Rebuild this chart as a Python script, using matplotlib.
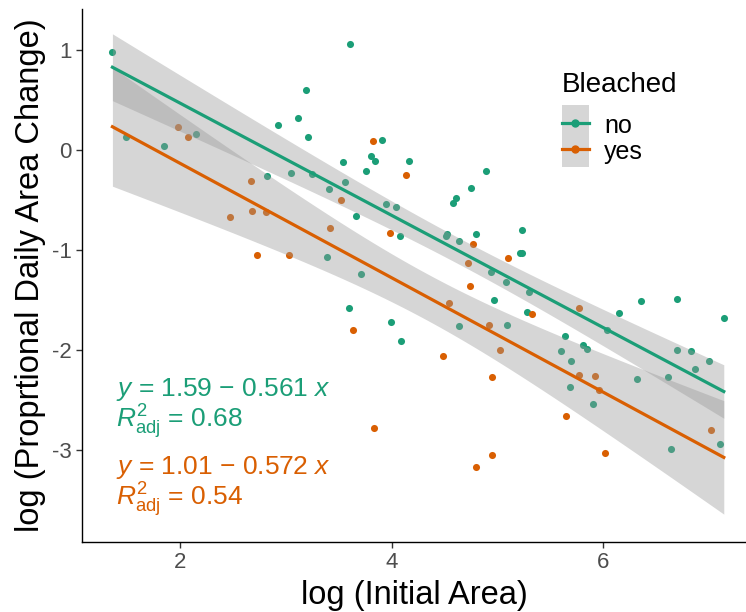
import numpy as np
import matplotlib
matplotlib.use("Agg")
import matplotlib.pyplot as plt
from matplotlib.patches import Patch, Rectangle
from matplotlib.lines import Line2D
from matplotlib.legend_handler import HandlerTuple, HandlerPatch

plt.rcParams['font.family'] = ['Liberation Sans', 'DejaVu Sans']
plt.rcParams['mathtext.fontset'] = 'custom'
plt.rcParams['mathtext.rm'] = 'Liberation Sans'
plt.rcParams['mathtext.it'] = 'Liberation Sans:italic'
plt.rcParams['axes.unicode_minus'] = False

# ---- data ----
no_x = [1.36, 1.49, 1.85, 2.15, 3.19, 2.93, 3.11, 3.21, 2.82, 3.05, 3.25, 3.61, 3.91, 3.80,
        3.84, 3.54, 4.16, 3.76, 4.89, 3.56, 3.41, 4.75, 4.61, 4.58, 3.95, 4.04, 3.66, 4.08,
        4.52, 4.51, 4.80, 4.64, 3.39, 3.71, 4.94, 5.08, 4.97, 3.60, 3.99, 4.64, 5.09, 4.09,
        5.23, 5.21, 5.23, 5.30, 5.28, 6.15, 6.36, 6.70, 7.14, 6.04, 5.64, 5.81, 5.85, 5.60,
        6.70, 6.83, 7.00, 5.70, 6.87, 6.61, 6.32, 5.69, 5.90, 7.10, 6.64]
no_y = [0.98, 0.13, 0.04, 0.16, 0.60, 0.25, 0.32, 0.13, -0.26, -0.23, -0.24, 1.06, 0.10, -0.06,
        -0.11, -0.12, -0.11, -0.21, -0.21, -0.32, -0.39, -0.38, -0.48, -0.53, -0.54, -0.57, -0.66, -0.86,
        -0.84, -0.86, -0.84, -0.91, -1.07, -1.24, -1.22, -1.32, -1.50, -1.58, -1.72, -1.76, -1.75, -1.91,
        -0.80, -1.03, -1.03, -1.42, -1.62, -1.63, -1.51, -1.49, -1.68, -1.80, -1.86, -1.95, -1.99, -2.01,
        -2.00, -2.01, -2.11, -2.11, -2.19, -2.27, -2.29, -2.37, -2.54, -2.94, -2.99]

yes_x = [1.98, 2.07, 2.67, 2.47, 2.68, 2.81, 2.73, 3.03, 3.82, 4.14, 3.52, 3.42, 3.98, 4.77,
         4.72, 5.10, 4.74, 4.54, 4.92, 3.63, 5.02, 4.49, 4.95, 5.33, 5.77, 5.77, 5.92, 5.96,
         5.65, 7.02, 6.02, 3.83, 4.95, 4.80]
yes_y = [0.23, 0.13, -0.31, -0.67, -0.61, -0.62, -1.05, -1.05, 0.09, -0.25, -0.50, -0.78, -0.83, -0.94,
         -1.13, -1.08, -1.36, -1.53, -1.75, -1.80, -2.00, -2.06, -2.27, -1.64, -1.58, -2.25, -2.26, -2.40,
         -2.66, -2.80, -3.03, -2.78, -3.05, -3.17]

groups = ["no", "yes"]
intercepts = [1.59, 1.01]
slopes = [-0.561, -0.572]
r2_adj = [0.68, 0.54]
colors = ["#1B9E77", "#D95F02"]

fig = plt.figure(figsize=(7.46, 6.12), dpi=100)
ax = fig.add_axes([0.110, 0.1144, 0.890, 0.871])

all_x = np.array(no_x + yes_x)
grid = np.linspace(all_x.min(), all_x.max(), 100)
t975 = {"no": 1.997, "yes": 2.037}

for g, xs, ys, b0, b1, col in zip(groups, [no_x, yes_x], [no_y, yes_y], intercepts, slopes, colors):
    xs = np.array(xs); ys = np.array(ys)
    ax.scatter(xs, ys, s=26, color=col, zorder=1, linewidths=0)
    n = len(xs)
    resid = ys - (b0 + b1 * xs)
    s = np.sqrt(np.sum(resid ** 2) / (n - 2))
    sxx = np.sum((xs - xs.mean()) ** 2)
    se = s * np.sqrt(1.0 / n + (grid - xs.mean()) ** 2 / sxx)
    fit = b0 + b1 * grid
    ax.fill_between(grid, fit - t975[g] * se, fit + t975[g] * se, color="#999999", alpha=0.4,
                    linewidth=0, zorder=2)
    ax.plot(grid, fit, color=col, lw=2.3, zorder=3)

ax.set_xlim(1.073, 7.35)
ax.set_ylim(-3.92, 1.41)
ax.set_xticks([2, 4, 6])
ax.set_yticks([1, 0, -1, -2, -3])
for sp in ["top", "right"]:
    ax.spines[sp].set_visible(False)
for sp in ["left", "bottom"]:
    ax.spines[sp].set_linewidth(1.0)
    ax.spines[sp].set_color("black")
ax.tick_params(axis="both", labelsize=16, labelcolor="#4D4D4D", color="#333333", length=4, width=1)
ax.set_xlabel("log (Initial Area)", fontsize=23.5, labelpad=5)
ax.set_ylabel("log (Proprtional Daily Area Change)", fontsize=23.5, labelpad=4)

# equation annotations
tx = 1.395
ax.text(tx, -2.40, r"$y$ = 1.59 $-$ 0.561 $x$", color=colors[0], fontsize=19, va="center", ha="left")
ax.text(tx, -2.72, r"$R^{2}_{\mathrm{adj}}$ = 0.68", color=colors[0], fontsize=19, va="center", ha="left")
ax.text(tx, -3.18, r"$y$ = 1.01 $-$ 0.572 $x$", color=colors[1], fontsize=19, va="center", ha="left")
ax.text(tx, -3.50, r"$R^{2}_{\mathrm{adj}}$ = 0.54", color=colors[1], fontsize=19, va="center", ha="left")


def key_rect(legend, orig_handle, xdescent, ydescent, width, height, fontsize):
    return Rectangle((-xdescent, -ydescent - 3), width, height + ydescent + 6)


handles = []
for col in colors:
    p = Patch(facecolor="#D6D6D6", edgecolor="none")
    l = Line2D([0], [0], color=col, lw=2.3, marker="o", markersize=5)
    handles.append((p, l))
leg = ax.legend(handles, groups, title="Bleached", loc="upper left", bbox_to_anchor=(0.753, 0.883),
                bbox_transform=fig.transFigure, frameon=False, fontsize=18, title_fontsize=20,
                handler_map={tuple: HandlerTuple(ndivide=1, pad=0.0),
                             Patch: HandlerPatch(patch_func=key_rect)},
                handlelength=1.1, handleheight=1.1,
                labelspacing=0.0, handletextpad=0.6, borderpad=0.0, borderaxespad=0.0)
leg._legend_box.align = "left"
leg._legend_box.sep = 11

fig.savefig("out.png", dpi=100)
